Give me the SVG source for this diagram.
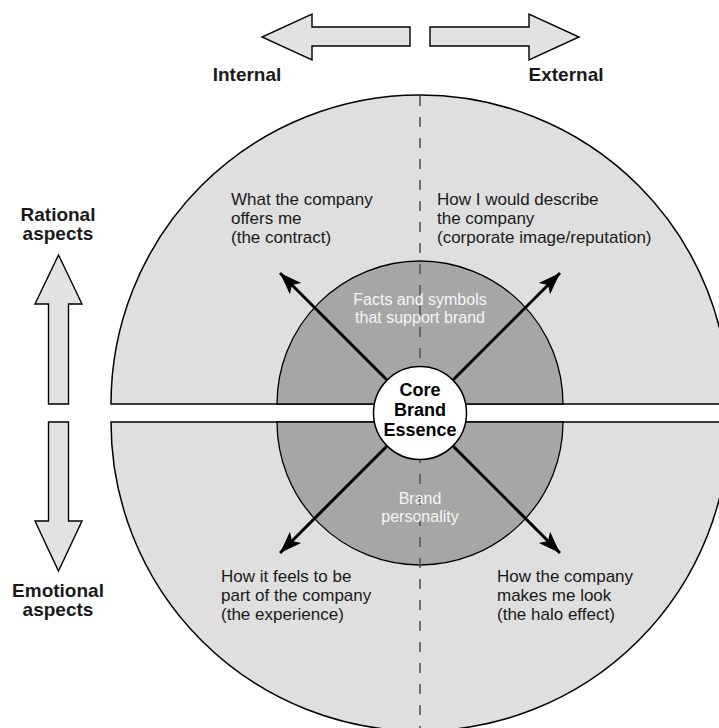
<svg xmlns="http://www.w3.org/2000/svg" width="719" height="728" viewBox="0 0 719 728">
<style>
.outer{fill:#dfdfdf;stroke:#000;stroke-width:1.5}
.inner{fill:#a6a6a6;stroke:#000;stroke-width:1.3}
.big{fill:#e2e2e2;stroke:#000;stroke-width:1.4;stroke-linejoin:miter}
.lbl{font-family:"Liberation Sans",Arial,sans-serif;font-size:17px;fill:#1a1a1a}
.head{font-family:"Liberation Sans",Arial,sans-serif;font-size:19px;font-weight:bold;fill:#1a1a1a;text-anchor:middle}
.inn{font-family:"Liberation Sans",Arial,sans-serif;font-size:16px;fill:#f5f5f5;text-anchor:middle}
.core{font-family:"Liberation Sans",Arial,sans-serif;font-size:18px;font-weight:bold;fill:#000;text-anchor:middle}
.diag{stroke:#000;stroke-width:3;fill:none;marker-end:url(#ah)}
</style>
<defs>
<marker id="ah" markerUnits="userSpaceOnUse" markerWidth="24" markerHeight="18" viewBox="0 0 24 18" refX="22" refY="9" orient="auto">
<path d="M0,1 L22,9 L0,17 L5,9 Z" fill="#000"/>
</marker>
</defs>
<rect width="719" height="728" fill="#fff"/>

<g id="outer-circle">
<path class="outer" d="M111,404 A309,309 0 0 1 729,404 Z"/>
<path class="outer" d="M111,422 A309,309 0 0 0 729,422 Z"/>
</g>
<g id="inner-circle">
<path class="inner" d="M277,404 A143,143 0 0 1 563,404 Z"/>
<path class="inner" d="M277,422 A143,143 0 0 0 563,422 Z"/>
</g>
<g id="divider">
<line x1="420" y1="96" x2="420" y2="728" stroke="#555" stroke-width="1.6" stroke-dasharray="10 11"/>
</g>

<g id="connectors">
<line class="diag" x1="387" y1="380" x2="280" y2="273"/>
<line class="diag" x1="453" y1="380" x2="560" y2="273"/>
<line class="diag" x1="387" y1="446" x2="280" y2="553"/>
<line class="diag" x1="453" y1="446" x2="560" y2="553"/>
</g>

<g id="inner-labels">
<text class="inn" x="420" y="305">Facts and symbols</text>
<text class="inn" x="420" y="323">that support brand</text>
<text class="inn" x="420" y="504">Brand</text>
<text class="inn" x="420" y="522">personality</text>
</g>

<g id="core">
<circle cx="420" cy="413" r="46.5" fill="#fff" stroke="#000" stroke-width="1.5"/>
<text class="core" x="420" y="396">Core</text>
<text class="core" x="420" y="416">Brand</text>
<text class="core" x="420" y="436">Essence</text>
</g>

<g id="q-contract">
<text class="lbl" x="231" y="205">What the company</text>
<text class="lbl" x="231" y="224">offers me</text>
<text class="lbl" x="231" y="243">(the contract)</text>
</g>
<g id="q-image">
<text class="lbl" x="437" y="205">How I would describe</text>
<text class="lbl" x="437" y="224">the company</text>
<text class="lbl" x="437" y="243">(corporate image/reputation)</text>
</g>
<g id="q-experience">
<text class="lbl" x="221" y="582">How it feels to be</text>
<text class="lbl" x="221" y="601">part of the company</text>
<text class="lbl" x="221" y="620">(the experience)</text>
</g>
<g id="q-halo">
<text class="lbl" x="497" y="582">How the company</text>
<text class="lbl" x="497" y="601">makes me look</text>
<text class="lbl" x="497" y="620">(the halo effect)</text>
</g>

<g id="internal">
<path class="big" d="M410,27 L312,27 L312,14 L262,37 L312,60 L312,46 L410,46 Z"/>
<text class="head" x="247" y="81">Internal</text>
</g>
<g id="external">
<path class="big" d="M430,27 L529,27 L529,14 L579,37 L529,60 L529,46 L430,46 Z"/>
<text class="head" x="566" y="81">External</text>
</g>
<g id="rational">
<text class="head" x="58" y="221">Rational</text>
<text class="head" x="58" y="240">aspects</text>
<path class="big" d="M48.5,404 L48.5,304 L35,304 L58.5,255 L82,304 L68.5,304 L68.5,404 Z"/>
</g>
<g id="emotional">
<path class="big" d="M48.5,422 L48.5,521 L35,521 L58.5,571 L82,521 L68.5,521 L68.5,422 Z"/>
<text class="head" x="58" y="597">Emotional</text>
<text class="head" x="58" y="616">aspects</text>
</g>
</svg>
